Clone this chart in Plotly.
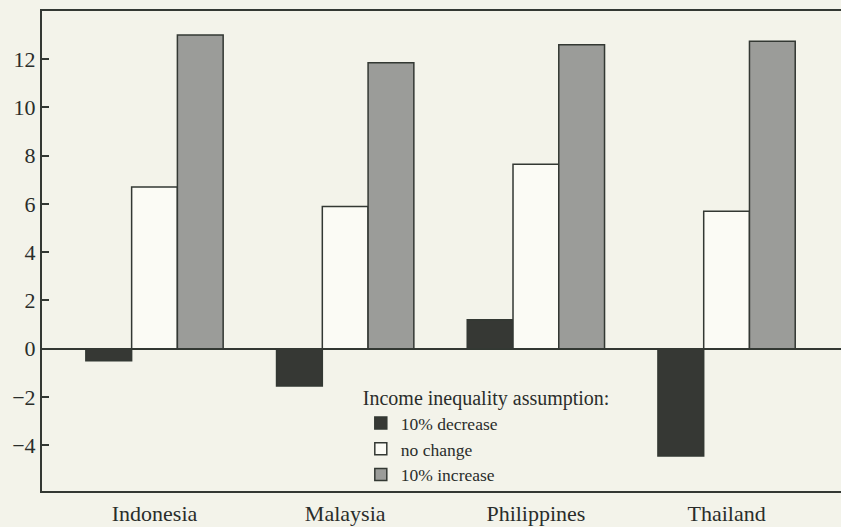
import plotly.graph_objects as go

countries = ["Indonesia", "Malaysia", "Philippines", "Thailand"]
decrease_10 = [-0.5, -1.55, 1.2, -4.45]
no_change = [6.7, 5.9, 7.65, 5.7]
increase_10 = [13.0, 11.85, 12.6, 12.75]

series = [
    ("10% decrease", decrease_10, "#363834"),
    ("no change", no_change, "#fbfbf5"),
    ("10% increase", increase_10, "#9b9c99"),
]

BG = "#f3f3ea"
LINE = "#333833"
FONT = "Liberation Serif, Times New Roman, serif"

fig = go.Figure()
for name, vals, col in series:
    fig.add_trace(go.Bar(
        x=countries, y=vals, name=name,
        marker=dict(color=col, line=dict(color=LINE, width=1.5)),
    ))

fig.update_layout(
    width=841, height=527,
    margin=dict(l=42, r=0, t=11, b=36, autoexpand=False),
    paper_bgcolor=BG, plot_bgcolor=BG,
    barmode="group", bargap=0.28, bargroupgap=0,
    font=dict(family=FONT, color="#2a2d2a", size=20),
    showlegend=True,
    legend=dict(
        title=dict(text="Income inequality assumption:", font=dict(size=20, family=FONT)),
        font=dict(size=17.5, family=FONT),
        x=0.399, y=0.233, xanchor="left", yanchor="top",
        bgcolor="rgba(0,0,0,0)", tracegroupgap=0, itemwidth=30,
    ),
)
fig.update_xaxes(
    range=[-0.59, 3.6], showline=True, mirror=True, linecolor=LINE, linewidth=2,
    ticks="", showgrid=False, tickfont=dict(size=22, family=FONT),
    automargin=False, ticklabelstandoff=2,
)
fig.update_yaxes(
    range=[-5.9, 14.0], showline=True, linecolor=LINE, linewidth=2,
    tickvals=[-4, -2, 0, 2, 4, 6, 8, 10, 12], ticktext=["\u22124", "\u22122", "0", "2", "4", "6", "8", "10", "12"],
    ticks="inside", ticklen=7, tickwidth=1.5, tickcolor=LINE,
    showgrid=False, zeroline=True, zerolinecolor=LINE, zerolinewidth=1.5,
    tickfont=dict(size=22, family=FONT), automargin=False,
)

fig.write_html(
    "out.html",
    config={"displayModeBar": False},
    post_script="document.body.style.margin='0px';document.body.style.background='%s';" % BG,
)
